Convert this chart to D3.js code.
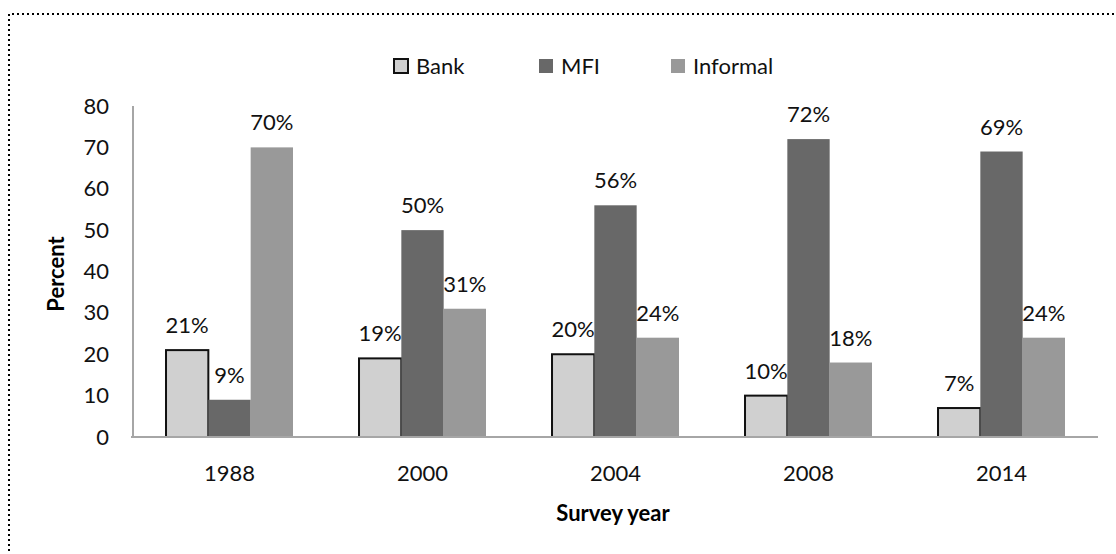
<!DOCTYPE html>
<html>
<head>
<meta charset="utf-8">
<script src="https://cdn.jsdelivr.net/npm/d3@7"></script>
<style>
  html, body { margin: 0; padding: 0; background: #fff; }
  svg { display: block; font-family: Lato, "Open Sans", sans-serif; }
</style>
</head>
<body>
<svg id="chart" width="1116" height="554"></svg>
<script>
// Source of loans by survey year (percent of borrowers)
const years = ["1988", "2000", "2004", "2008", "2014"];
const seriesNames = ["Bank", "MFI", "Informal"];
const bank = [21, 19, 20, 10, 7];
const mfi = [9, 50, 56, 72, 69];
const informal = [70, 31, 24, 18, 24];
const yTicks = [0, 10, 20, 30, 40, 50, 60, 70, 80];

const seriesValues = { Bank: bank, MFI: mfi, Informal: informal };
const fills = { Bank: "#d0d0d0", MFI: "#686868", Informal: "#999999" };
const textColor = "#111";

const svg = d3.select("#chart");

// dotted frame (top and left edges)
svg.append("path")
  .attr("d", "M9,1116 V14 H1116")
  .attr("fill", "none")
  .attr("stroke", "#000")
  .attr("stroke-width", 2)
  .attr("stroke-dasharray", "2,3");

const plot = { left: 133, right: 1098, top: 106, bottom: 437 };

const x0 = d3.scaleBand().domain(years).range([plot.left, plot.right]);
const x1 = d3.scaleBand().domain(seriesNames).range([0, x0.bandwidth()]).paddingOuter(0.78);
const y = d3.scaleLinear().domain([0, 80]).range([plot.bottom, plot.top]);

// bars: Bank first so its outline sits under the neighbouring MFI bar
const g = svg.append("g");
seriesNames.forEach(name => {
  g.selectAll(null)
    .data(years.map((yr, i) => ({ yr, v: seriesValues[name][i] })))
    .join("rect")
    .attr("x", d => x0(d.yr) + x1(name))
    .attr("y", d => y(d.v))
    .attr("width", x1.bandwidth())
    .attr("height", d => y(0) - y(d.v))
    .attr("fill", fills[name])
    .attr("stroke", name === "Bank" ? "#111" : "none")
    .attr("stroke-width", name === "Bank" ? 2 : 0);
});

// value labels
seriesNames.forEach(name => {
  svg.append("g").selectAll("text")
    .data(years.map((yr, i) => ({ yr, v: seriesValues[name][i] })))
    .join("text")
    .attr("x", d => x0(d.yr) + x1(name) + x1.bandwidth() / 2)
    .attr("y", d => y(d.v) - 17)
    .attr("text-anchor", "middle")
    .attr("font-size", 22)
    .attr("fill", textColor)
    .text(d => d.v + "%");
});

// axes
const axisColor = "#a6a6a6";
svg.append("line")
  .attr("x1", plot.left).attr("x2", plot.left)
  .attr("y1", y(80)).attr("y2", y(0))
  .attr("stroke", axisColor).attr("stroke-width", 2);
svg.append("line")
  .attr("x1", plot.left - 2).attr("x2", plot.right)
  .attr("y1", y(0)).attr("y2", y(0))
  .attr("stroke", axisColor).attr("stroke-width", 2);

const yAxis = d3.axisLeft(y).tickValues(yTicks).tickSize(0).tickPadding(24);
const yg = svg.append("g").attr("transform", `translate(${plot.left},0)`).call(yAxis);
yg.select(".domain").remove();
yg.selectAll("text").attr("font-size", 22).attr("fill", textColor).attr("font-family", "Lato, sans-serif");

const xAxis = d3.axisBottom(x0).tickSize(0).tickPadding(28);
const xg = svg.append("g").attr("transform", `translate(0,${plot.bottom})`).call(xAxis);
xg.select(".domain").remove();
xg.selectAll("text").attr("font-size", 22).attr("fill", textColor).attr("font-family", "Lato, sans-serif");

// axis titles
svg.append("text")
  .attr("transform", "translate(64,274) rotate(-90)")
  .attr("text-anchor", "middle")
  .attr("font-size", 22).attr("font-weight", "bold").attr("fill", "#000")
  .text("Percent");
svg.append("text")
  .attr("x", 613).attr("y", 521)
  .attr("text-anchor", "middle")
  .attr("font-size", 22).attr("font-weight", "bold").attr("fill", "#000")
  .text("Survey year");

// legend
const legendX = [394, 539, 671];
const lg = svg.append("g");
seriesNames.forEach((name, i) => {
  lg.append("rect")
    .attr("x", legendX[i]).attr("y", 59)
    .attr("width", 14).attr("height", 14)
    .attr("fill", fills[name])
    .attr("stroke", name === "Bank" ? "#111" : "none")
    .attr("stroke-width", 2);
  lg.append("text")
    .attr("x", legendX[i] + 22).attr("y", 74)
    .attr("font-size", 22).attr("fill", textColor)
    .text(name);
});
</script>
</body>
</html>
